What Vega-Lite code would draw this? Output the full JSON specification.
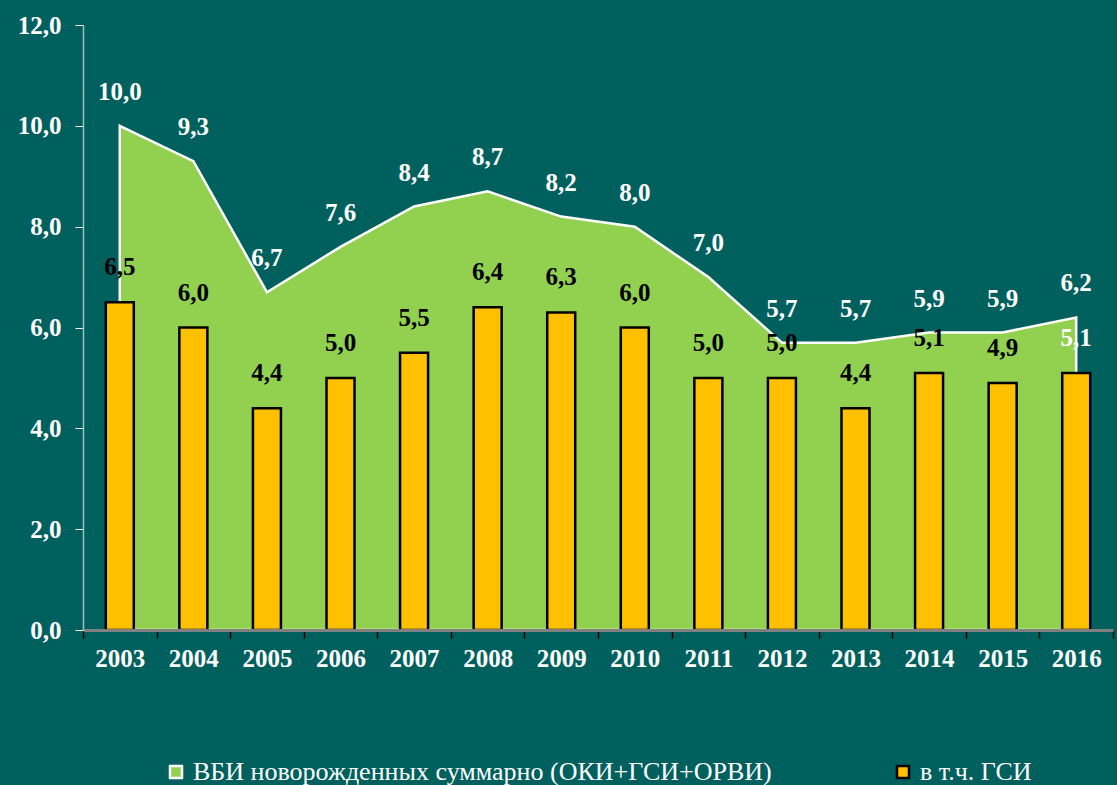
{
  "$schema": "https://vega.github.io/schema/vega-lite/v6.json",
  "width": 1030,
  "height": 605,
  "autosize": "none",
  "padding": {"left": 83, "top": 25, "right": 4, "bottom": 155},
  "background": "#00605D",
  "config": {
    "view": {"stroke": null},
    "locale": {"number": {"decimal": ",", "thousands": " ", "grouping": [3], "currency": ["", ""]}},
    "font": "Liberation Serif"
  },
  "data": {
    "values": [
      {"year": "2003", "total": 10.0, "gsi": 6.5},
      {"year": "2004", "total": 9.3, "gsi": 6.0},
      {"year": "2005", "total": 6.7, "gsi": 4.4},
      {"year": "2006", "total": 7.6, "gsi": 5.0},
      {"year": "2007", "total": 8.4, "gsi": 5.5},
      {"year": "2008", "total": 8.7, "gsi": 6.4},
      {"year": "2009", "total": 8.2, "gsi": 6.3},
      {"year": "2010", "total": 8.0, "gsi": 6.0},
      {"year": "2011", "total": 7.0, "gsi": 5.0},
      {"year": "2012", "total": 5.7, "gsi": 5.0},
      {"year": "2013", "total": 5.7, "gsi": 4.4},
      {"year": "2014", "total": 5.9, "gsi": 5.1},
      {"year": "2015", "total": 5.9, "gsi": 4.9},
      {"year": "2016", "total": 6.2, "gsi": 5.1}
    ]
  },
  "encoding": {
    "x": {
      "field": "year",
      "type": "ordinal",
      "scale": {"paddingInner": 0, "paddingOuter": 0},
      "axis": {
        "title": null,
        "labelAngle": 0,
        "labelFont": "Liberation Serif",
        "labelFontSize": 25,
        "labelFontWeight": "bold",
        "labelColor": "white",
        "labelPadding": 8,
        "domainColor": "#808080",
        "domainWidth": 3,
        "tickColor": "black",
        "tickSize": 8,
        "tickWidth": 1.5,
        "tickBand": "extent",
        "zindex": 1
      }
    }
  },
  "layer": [
    {
      "mark": {"type": "area", "strokeWidth": 2.5, "opacity": 1},
      "encoding": {
        "y": {
          "field": "total",
          "type": "quantitative",
          "scale": {"domain": [0, 12], "nice": false},
          "axis": {
            "title": null,
            "values": [0, 2, 4, 6, 8, 10, 12],
            "format": ".1f",
            "grid": false,
            "labelFont": "Liberation Serif",
            "labelFontSize": 25,
            "labelFontWeight": "bold",
            "labelColor": "white",
            "labelPadding": 14,
            "domainColor": "#9CC2C0",
            "domainWidth": 1.5,
            "tickColor": "white",
            "tickSize": 8,
            "tickWidth": 1,
            "zindex": 1
          }
        },
        "fill": {
          "datum": "ВБИ новорожденных суммарно (ОКИ+ГСИ+ОРВИ)",
          "scale": {
            "domain": ["ВБИ новорожденных суммарно (ОКИ+ГСИ+ОРВИ)", "в т.ч. ГСИ"],
            "range": ["#92D050", "#FFC000"]
          },
          "legend": {
            "title": null,
            "orient": "none",
            "legendX": 80,
            "legendY": 734,
            "direction": "horizontal",
            "symbolType": "square",
            "symbolSize": 144,
            "symbolStrokeWidth": 2.5,
            "labelFont": "Liberation Serif",
            "labelFontSize": 26,
            "labelColor": "white",
            "labelLimit": 700,
            "labelOffset": 4,
            "columnPadding": 118
          }
        },
        "stroke": {
          "datum": "ВБИ новорожденных суммарно (ОКИ+ГСИ+ОРВИ)",
          "scale": {
            "domain": ["ВБИ новорожденных суммарно (ОКИ+ГСИ+ОРВИ)", "в т.ч. ГСИ"],
            "range": ["white", "black"]
          },
          "legend": {
            "title": null,
            "orient": "none",
            "legendX": 80,
            "legendY": 734,
            "direction": "horizontal",
            "symbolType": "square",
            "symbolSize": 144,
            "symbolStrokeWidth": 2.5,
            "labelFont": "Liberation Serif",
            "labelFontSize": 26,
            "labelColor": "white",
            "labelLimit": 700,
            "labelOffset": 4,
            "columnPadding": 118
          }
        }
      }
    },
    {
      "mark": {"type": "bar", "size": 28, "strokeWidth": 2.5},
      "encoding": {
        "y": {"field": "gsi", "type": "quantitative"},
        "fill": {"datum": "в т.ч. ГСИ"},
        "stroke": {"datum": "в т.ч. ГСИ"}
      }
    },
    {
      "mark": {"type": "text", "font": "Liberation Serif", "fontSize": 25, "fontWeight": "bold", "color": "white", "baseline": "middle", "dy": -34},
      "encoding": {
        "y": {"field": "total", "type": "quantitative"},
        "text": {"field": "total", "type": "quantitative", "format": ".1f"}
      }
    },
    {
      "mark": {"type": "text", "font": "Liberation Serif", "fontSize": 25, "fontWeight": "bold", "baseline": "middle", "dy": -35},
      "encoding": {
        "y": {"field": "gsi", "type": "quantitative"},
        "text": {"field": "gsi", "type": "quantitative", "format": ".1f"},
        "color": {"condition": {"test": "datum.year == '2016'", "value": "white"}, "value": "black"}
      }
    }
  ]
}
